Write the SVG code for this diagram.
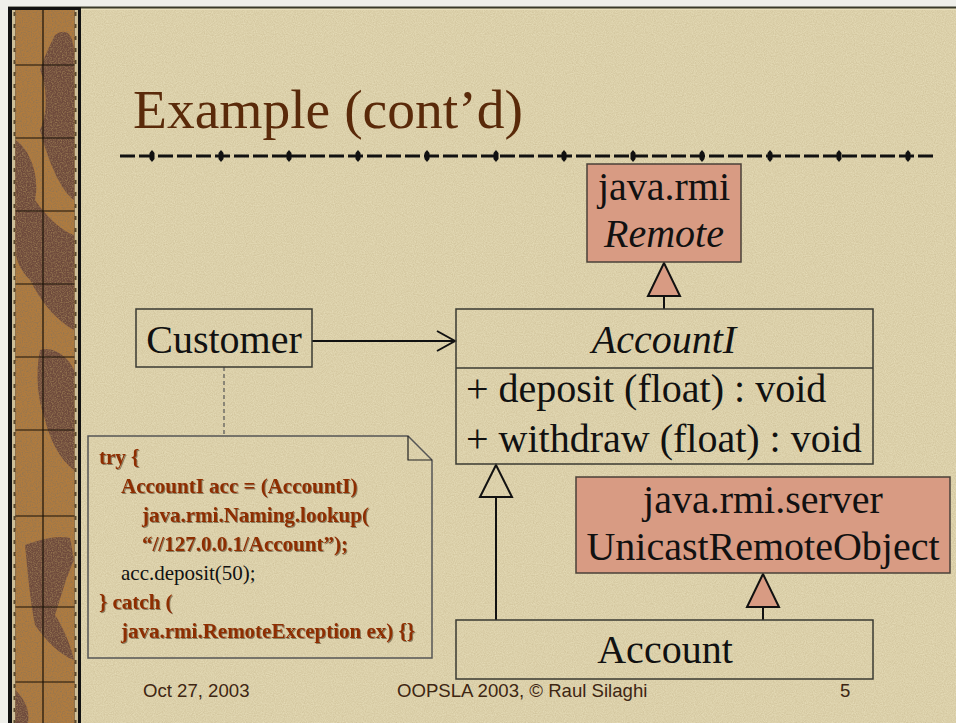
<svg xmlns="http://www.w3.org/2000/svg" width="956" height="723" viewBox="0 0 956 723">
<style>
.box{fill:none;stroke:#3a3a32;stroke-width:1.5}
.sal{fill:#D89B83;stroke:#4a4038;stroke-width:1.5}
.t40{font-family:"Liberation Serif","Times New Roman",serif;font-size:40px;fill:#111}
.it{font-style:italic}
.code{font-family:"Liberation Serif","Times New Roman",serif;font-size:21px;font-weight:bold;fill:#8E2E06;filter:url(#sh)}
.codeN{font-family:"Liberation Serif","Times New Roman",serif;font-size:21px;fill:#111}
.foot{font-family:"Liberation Sans",Arial,sans-serif;font-size:18.6px;fill:#3E2612}
.ln{stroke:#111;stroke-width:2;fill:none}
</style>
<defs>
<filter id="sh" x="-5%" y="-20%" width="110%" height="140%">
<feDropShadow dx="1" dy="1" stdDeviation="0.4" flood-color="#4a3a20" flood-opacity="0.55"/>
</filter>
<filter id="noise" x="0" y="0" width="100%" height="100%">
<feTurbulence type="fractalNoise" baseFrequency="0.9" numOctaves="2" seed="3" result="n"/>
<feColorMatrix in="n" type="matrix" values="0 0 0 0 0.35  0 0 0 0 0.25  0 0 0 0 0.1  0 0 0 0.35 0"/>
</filter>
<filter id="noise2" x="0" y="0" width="100%" height="100%">
<feTurbulence type="fractalNoise" baseFrequency="0.8" numOctaves="2" seed="7" result="n"/>
<feColorMatrix in="n" type="matrix" values="0 0 0 0 0.3  0 0 0 0 0.18  0 0 0 0 0.08  0 0 0 2.2 -0.85"/>
</filter>
<polygon id="tick" points="0,-6 2.5,-3 2.5,3 0,6 -2.5,3 -2.5,-3" fill="#111"/>
<pattern id="chain" width="6" height="12" patternUnits="userSpaceOnUse">
<rect width="6" height="12" fill="#CDBE98"/>
<rect x="1.5" y="0" width="3" height="4" fill="#5a4a30"/>
</pattern>
</defs>

<!-- slide background -->
<rect width="956" height="723" fill="#EFEFEA"/>
<rect x="8" y="8" width="948" height="715" fill="#E8DFBB"/>
<rect x="81" y="10" width="875" height="713" filter="url(#noise)"/>
<rect x="8" y="6.5" width="948" height="2" fill="#3a3a2a"/>

<!-- left decorative strip -->
<g id="strip">
<rect x="8" y="7" width="73" height="716" fill="#111"/>
<rect x="12" y="10" width="3.5" height="713" fill="url(#chain)"/>
<rect x="74.5" y="10" width="3.5" height="713" fill="url(#chain)"/>
<rect x="15.5" y="10" width="59" height="713" fill="#B07B3E"/>
<path d="M55,35 C70,25 75,40 74,60 L74,200 C60,190 48,160 40,130 C50,110 45,80 40,70 C45,55 50,45 55,35 Z" fill="#6E4A3C"/>
<path d="M15.5,140 C30,150 40,175 35,200 C45,215 60,230 74,235 L74,330 C55,320 40,300 30,280 C20,270 16,260 15.5,250 Z" fill="#6E4A3C"/>
<path d="M40,350 C55,345 70,360 74,370 L74,470 C60,460 50,440 45,420 C38,400 35,375 40,350 Z" fill="#6E4A3C"/>
<path d="M25,545 C40,540 55,535 70,538 L74,560 C65,580 60,600 55,615 C65,630 72,650 74,660 C60,655 45,640 35,625 C30,600 28,575 25,545 Z" fill="#6E4A3C"/>
<path d="M15.5,690 C25,700 30,710 28,723 L15.5,723 Z" fill="#6E4A3C"/>
<rect x="15.5" y="10" width="59" height="713" filter="url(#noise2)"/>
<g stroke="#1a1208" stroke-width="1.2">
<line x1="43" y1="10" x2="43" y2="723"/>
<line x1="15.5" y1="65" x2="74.5" y2="65"/>
<line x1="15.5" y1="138" x2="74.5" y2="138"/>
<line x1="15.5" y1="211" x2="74.5" y2="211"/>
<line x1="15.5" y1="284" x2="74.5" y2="284"/>
<line x1="15.5" y1="357" x2="74.5" y2="357"/>
<line x1="15.5" y1="430" x2="74.5" y2="430"/>
<line x1="15.5" y1="516" x2="74.5" y2="516"/>
<line x1="15.5" y1="607" x2="74.5" y2="607"/>
<line x1="15.5" y1="682" x2="74.5" y2="682"/>
</g>
</g>

<!-- title -->
<g id="title">
<text x="133" y="128" font-family="'Liberation Serif','Times New Roman',serif" font-size="55.5" fill="#5A2A0A">Example (cont’d)</text>
<line x1="120" y1="156" x2="937" y2="156" stroke="#111" stroke-width="3" stroke-dasharray="15 4"/>
<use href="#tick" x="152" y="156"/><use href="#tick" x="221" y="156"/><use href="#tick" x="289" y="156"/>
<use href="#tick" x="358" y="156"/><use href="#tick" x="427" y="156"/><use href="#tick" x="496" y="156"/>
<use href="#tick" x="564" y="156"/><use href="#tick" x="633" y="156"/><use href="#tick" x="702" y="156"/>
<use href="#tick" x="770" y="156"/><use href="#tick" x="839" y="156"/><use href="#tick" x="908" y="156"/>
</g>

<!-- connectors -->
<g id="connectors">
<line class="ln" x1="312" y1="341" x2="455" y2="341"/>
<polyline class="ln" points="437,331 455,341 437,351"/>
<line x1="224" y1="367" x2="224" y2="436" stroke="#555" stroke-width="1.2" stroke-dasharray="4 3"/>
<line class="ln" x1="664" y1="296" x2="664" y2="309"/>
<polygon points="664,263 648,296 680,296" fill="#D89B83" stroke="#111" stroke-width="2"/>
<line class="ln" x1="496" y1="497" x2="496" y2="620"/>
<polygon points="496,465 480,497 512,497" fill="none" stroke="#111" stroke-width="2"/>
<line class="ln" x1="763" y1="607" x2="763" y2="620"/>
<polygon points="763,574 747,607 779,607" fill="#D89B83" stroke="#111" stroke-width="2"/>
</g>

<!-- nodes -->
<g id="remote">
<rect class="sal" x="587" y="164" width="154" height="98"/>
<text class="t40" x="664" y="200" text-anchor="middle">java.rmi</text>
<text class="t40 it" x="664" y="247" text-anchor="middle">Remote</text>
</g>

<g id="customer">
<rect class="box" x="136" y="309" width="176" height="58"/>
<text class="t40" x="224" y="353" text-anchor="middle">Customer</text>
</g>

<g id="accountI">
<rect class="box" x="456" y="309" width="417" height="155"/>
<line class="box" x1="456" y1="368" x2="873" y2="368"/>
<text class="t40 it" x="664" y="353" text-anchor="middle">AccountI</text>
<text class="t40" x="466" y="402">+ deposit (float) : void</text>
<text class="t40" x="466" y="452">+ withdraw (float) : void</text>
</g>

<g id="unicast">
<rect class="sal" x="576" y="477" width="374" height="96"/>
<text class="t40" x="763" y="513" text-anchor="middle">java.rmi.server</text>
<text class="t40" x="763" y="560" text-anchor="middle">UnicastRemoteObject</text>
</g>

<g id="account">
<rect class="box" x="456" y="620" width="417" height="59"/>
<text class="t40" x="665" y="663" text-anchor="middle">Account</text>
</g>

<g id="note">
<path d="M88,436 H408 L432,460 V658 H88 Z" fill="none" stroke="#555" stroke-width="1.5"/>
<path d="M408,436 V460 H432" fill="none" stroke="#222" stroke-width="1.2"/>
<text class="code" x="99" y="464">try {</text>
<text class="code" x="121" y="493">AccountI acc = (AccountI)</text>
<text class="code" x="142" y="522">java.rmi.Naming.lookup(</text>
<text class="code" x="142" y="551">“//127.0.0.1/Account”);</text>
<text class="codeN" x="121" y="580">acc.deposit(50);</text>
<text class="code" x="99" y="609">} catch (</text>
<text class="code" x="121" y="638">java.rmi.RemoteException ex) {}</text>
</g>

<!-- footer -->
<g id="footer">
<text class="foot" x="143" y="697">Oct 27, 2003</text>
<text class="foot" x="397" y="697">OOPSLA 2003, © Raul Silaghi</text>
<text class="foot" x="840" y="697">5</text>
</g>
</svg>
